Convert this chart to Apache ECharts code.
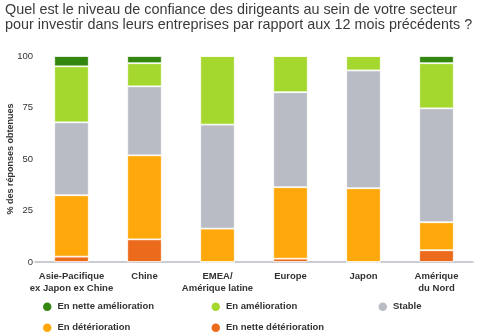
<!DOCTYPE html>
<html>
<head>
<meta charset="utf-8">
<script src="https://cdn.jsdelivr.net/npm/echarts@6/dist/echarts.min.js"></script>
<style>
  html, body { margin: 0; padding: 0; background: #fff; }
  #chart { width: 480px; height: 336px; }
</style>
</head>
<body>
<div id="chart"></div>
<script>
// Regions surveyed
const categories = ['Asie-Pacifique\nex Japon ex Chine', 'Chine', 'EMEA/\nAmérique latine', 'Europe', 'Japon', 'Amérique\ndu Nord'];

// Share of responses (%) per answer, stacked from the bottom
const netteDeterioration = [2.6, 11, 0, 1.6, 0, 5.7];
const deterioration      = [29.8, 40.8, 16.2, 34.7, 35.8, 13.6];
const stable             = [35.4, 33.5, 50.5, 46.1, 57.2, 55.3];
const amelioration       = [27.2, 11.2, 33.3, 17.6, 7, 21.9];
const netteAmelioration  = [5, 3.5, 0, 0, 0, 3.5];

const yTicks = [0, 25, 50, 75, 100];

const seriesNames = ['En nette amélioration', 'En amélioration', 'Stable', 'En détérioration', 'En nette détérioration'];
const colors = ['#33870f', '#a5d82f', '#b9bcc4', '#ffa80b', '#eb6a1b'];

const stackOrder = [
  [seriesNames[4], netteDeterioration, colors[4]],
  [seriesNames[3], deterioration, colors[3]],
  [seriesNames[2], stable, colors[2]],
  [seriesNames[1], amelioration, colors[1]],
  [seriesNames[0], netteAmelioration, colors[0]]
];

const chart = echarts.init(document.getElementById('chart'));

// One legend block per entry, laid out as a 3 + 2 grid
const legendPos = [
  [41, 300.5], [209.5, 300.5], [376.5, 300.5],
  [41, 321.5], [209.5, 321.5]
];
const legends = seriesNames.map((n, i) => ({
  data: [n],
  left: legendPos[i][0],
  top: legendPos[i][1],
  icon: 'circle',
  itemWidth: 10.5,
  itemHeight: 10.5,
  itemGap: 0,
  padding: 0,
  textStyle: { fontFamily: 'Liberation Sans', fontWeight: 'bold', fontSize: 9.5, color: '#333' }
}));

chart.setOption({
  animation: false,
  color: colors,
  title: {
    text: 'Quel est le niveau de confiance des dirigeants au sein de votre secteur\npour investir dans leurs entreprises par rapport aux 12 mois précédents ?',
    left: 5,
    top: 2,
    padding: 0,
    textStyle: { fontFamily: 'Liberation Sans', fontWeight: 'normal', fontSize: 14.4, lineHeight: 15.5, color: '#3a3a3a' }
  },
  legend: legends,
  grid: { left: 35, right: 7, top: 56, bottom: 74, containLabel: false, outerBoundsMode: 'none' },
  xAxis: {
    type: 'category',
    data: categories,
    axisLine: { lineStyle: { color: '#b9bcc4', width: 1.5 } },
    axisTick: { show: false },
    axisLabel: {
      interval: 0,
      margin: 8,
      fontFamily: 'Liberation Sans',
      fontWeight: 'bold',
      fontSize: 9.5,
      lineHeight: 12.5,
      color: '#333'
    }
  },
  yAxis: {
    type: 'value',
    min: yTicks[0],
    max: yTicks[yTicks.length - 1],
    interval: 25,
    name: '% des réponses obtenues',
    nameLocation: 'middle',
    nameGap: 20,
    nameMoveOverlap: false,
    nameTextStyle: { fontFamily: 'Liberation Sans', fontWeight: 'bold', fontSize: 9, color: '#333' },
    axisLine: { show: false },
    axisTick: { show: false },
    splitLine: { show: false },
    axisLabel: { margin: 2, fontFamily: 'Liberation Sans', fontSize: 9.5, color: '#333' }
  },
  series: stackOrder.map(([name, values, color]) => ({
    name: name,
    type: 'bar',
    stack: 'total',
    barWidth: 34.5,
    data: values,
    itemStyle: { color: color, borderColor: '#fff', borderWidth: 0.8 }
  }))
});
</script>
</body>
</html>
